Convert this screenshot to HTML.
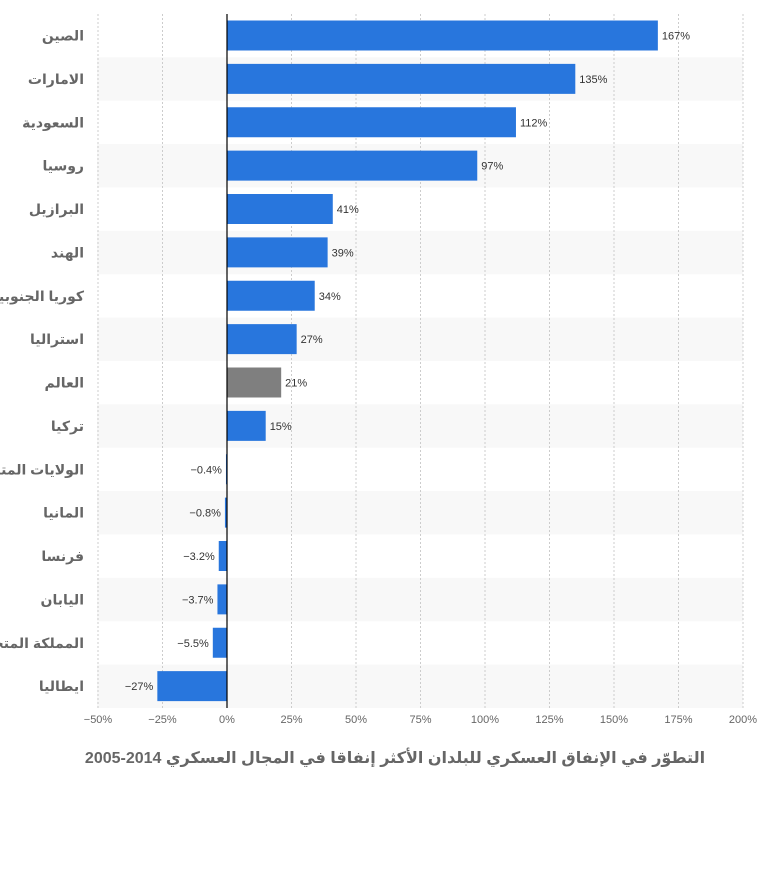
<!DOCTYPE html>
<html><head><meta charset="utf-8"><style>
body{margin:0;background:#fff;width:781px;height:872px;overflow:hidden;font-family:"Liberation Sans","DejaVu Sans",sans-serif}
svg text{font-family:"Liberation Sans","DejaVu Sans",sans-serif}
</style></head><body>
<svg id="chart" width="781" height="872" xmlns="http://www.w3.org/2000/svg"></svg>
<script>
const categories=["الصين","الامارات","السعودية","روسيا","البرازيل","الهند","كوريا الجنوبية","استراليا","العالم","تركيا","الولايات المتحدة","المانيا","فرنسا","اليابان","المملكة المتحدة","ايطاليا"];
const values=[167,135,112,97,41,39,34,27,21,15,-0.4,-0.8,-3.2,-3.7,-5.5,-27];
const valueLabels=["167%","135%","112%","97%","41%","39%","34%","27%","21%","15%","−0.4%","−0.8%","−3.2%","−3.7%","−5.5%","−27%"];
const ticks=[-50,-25,0,25,50,75,100,125,150,175,200];
const tickLabels=["−50%","−25%","0%","25%","50%","75%","100%","125%","150%","175%","200%"];
const highlight="العالم";

const NS="http://www.w3.org/2000/svg";
const svg=document.getElementById('chart');
const top0=14,bot=708,bandH=(bot-top0)/categories.length;
const x=v=>227+(v)*2.58;
function mk(t,a,p){const e=document.createElementNS(NS,t);for(const k in a)e.setAttribute(k,a[k]);(p||svg).appendChild(e);return e;}
categories.forEach((c,i)=>{
  if(i%2==1){const r=mk('rect',{x:97,y:top0+i*bandH,width:646,height:bandH,fill:'#f8f8f8'});
  
  }
});
ticks.forEach((t,i)=>{
  if(t!==0){const l=mk('line',{x1:x(t),x2:x(t),y1:top0,y2:bot,stroke:'#ccc','stroke-dasharray':'2,2'});
  
  }
  const tx=mk('text',{x:x(t),y:723,'text-anchor':'middle','font-size':11,fill:'#666'});
  tx.textContent=tickLabels[i];
  
  
});
categories.forEach((c,i)=>{
  const v=values[i],y=top0+i*bandH+6.5;
  const x0=Math.min(x(0),x(v)),w=Math.max(1,Math.abs(x(v)-x(0)));
  const b=mk('rect',{x:x0,y:y,width:w,height:30,fill:c===highlight?'#7f7f7f':'#2876dd'});
  
  
  const lab=mk('text',{x:v>=0?x(v)+4:x(v)-4,y:y+19,'text-anchor':v>=0?'start':'end','font-size':11,fill:'#333'});
  lab.textContent=valueLabels[i];
  
  
  const cl=mk('text',{x:84,y:y+20,'text-anchor':'end','font-size':14,'font-weight':'bold',fill:'#666'});
  cl.textContent=c;
  
  
});
const ax=mk('line',{x1:x(0),x2:x(0),y1:top0,y2:bot,stroke:'#000','stroke-width':1.2});


const ti=mk('text',{x:395,y:763,'text-anchor':'middle','font-size':16,'font-weight':'bold',fill:'#666',direction:'rtl'});
ti.textContent="التطوّر في الإنفاق العسكري للبلدان الأكثر إنفاقا في المجال العسكري 2014-2005";


</script>
</body></html>
